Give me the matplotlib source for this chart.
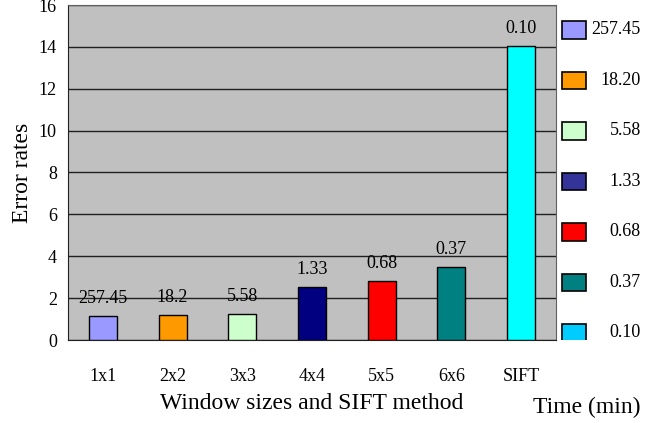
import matplotlib
matplotlib.use('Agg')
import matplotlib.pyplot as plt
from matplotlib.patches import Rectangle

# --- Datos ---
categorias = ['1x1', '2x2', '3x3', '4x4', '5x5', '6x6', 'SIFT']
error_rates = [1.15, 1.2, 1.24, 2.55, 2.84, 3.48, 14.03]
etiquetas_barras = ['257.45', '18.2', '5.58', '1.33', '0.68', '0.37', '0.10']
colores_barras = ['#9999FF', '#FF9900', '#CCFFCC', '#000080', '#FF0000', '#008080', '#00FFFF']
tiempos_leyenda = ['257.45', '18.20', '5.58', '1.33', '0.68', '0.37', '0.10']
colores_leyenda = ['#9999FF', '#FF9900', '#CCFFCC', '#333399', '#FF0000', '#008080', '#00CCFF']
yticks = [0, 2, 4, 6, 8, 10, 12, 14, 16]

plt.rcParams['font.family'] = ['Liberation Serif', 'DejaVu Serif']

fig = plt.figure(figsize=(6.66, 4.23), dpi=100)
W, H = 666, 423
ax = fig.add_axes([68 / W, 1 - 340 / H, (556 - 68) / W, (340 - 5) / H])

x = range(len(categorias))
ax.bar(x, error_rates, width=0.4, color=colores_barras, edgecolor='black',
       linewidth=1, zorder=3)
for xi, v, t in zip(x, error_rates, etiquetas_barras):
    ax.annotate(t, (xi, v), xytext=(0, 6.5), textcoords='offset points',
                ha='center', va='bottom', fontsize=13, zorder=4)

ax.set_facecolor('#C0C0C0')
ax.set_xlim(-0.5, len(categorias) - 0.5)
ax.set_ylim(0, 16)
ax.set_yticks(yticks)
ax.set_xticks(list(x))
ax.set_xticklabels(categorias)
ax.tick_params(axis='both', length=0, labelsize=13)
ax.tick_params(axis='x', pad=20)
ax.tick_params(axis='y', pad=8)
ax.grid(axis='y', color='#202020', linewidth=1, zorder=1)
for s in ax.spines.values():
    s.set_color('#606060')
ax.spines['left'].set_color('#202020')
ax.spines['bottom'].set_color('#202020')

ax.set_xlabel('Window sizes and SIFT method', fontsize=17, labelpad=6)
ax.set_ylabel('Error rates', fontsize=17, labelpad=4)

# --- Leyenda manual (Time) ---
ax_leg = fig.add_axes([556 / W, 1 - 340 / H, (W - 556) / W, (340 - 5) / H])
ax_leg.set_xlim(556, W)
ax_leg.set_ylim(6.14, -0.495)
ax_leg.axis('off')
for i, (t, c) in enumerate(zip(tiempos_leyenda, colores_leyenda)):
    ax_leg.add_patch(Rectangle((562, i - 0.17), 24, 0.34, facecolor=c,
                               edgecolor='black', linewidth=1.2))
    ax_leg.text(641, i, t, ha='right', va='center', fontsize=13)

fig.text(587 / W, 1 - 407 / H, 'Time (min)', ha='center', va='center', fontsize=17)

fig.savefig('out.png', facecolor='white')
